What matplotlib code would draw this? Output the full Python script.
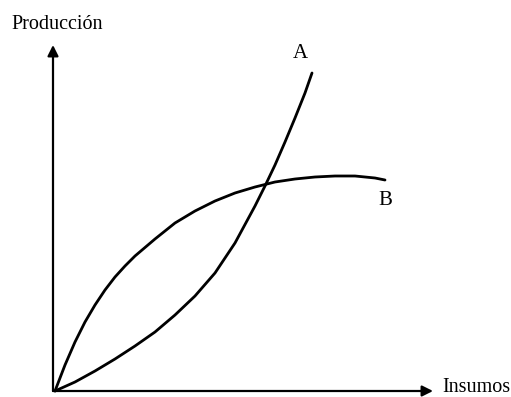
import matplotlib.pyplot as plt

# curva A (convexa) y curva B (concava)
insumos_a = [0, 2, 4, 6, 8, 10, 12, 14, 16, 18, 20, 21, 22, 23, 24, 25, 25.7]
prod_a = [0, 0.9, 2.0, 3.2, 4.5, 5.9, 7.6, 9.5, 11.8, 14.8, 18.5, 20.5, 22.6, 24.9, 27.3, 29.8, 31.8]

insumos_b = [0, 1, 2, 3, 4, 5, 6, 7, 8, 10, 12, 14, 16, 18, 20, 22, 24, 26, 28, 30, 32, 33]
prod_b = [0, 2.6, 4.9, 6.9, 8.6, 10.1, 11.4, 12.5, 13.5, 15.2, 16.8, 18.0, 19.0, 19.8, 20.4,
          20.9, 21.2, 21.4, 21.5, 21.5, 21.3, 21.1]

etiquetas = ["A", "B"]

plt.rcParams['font.family'] = ['Liberation Serif', 'DejaVu Serif']

fig = plt.figure(figsize=(5.11, 3.97), dpi=100)
ax = fig.add_axes([0, 0, 1, 1])
ax.set_xlim(-5.5, 45.6)
ax.set_ylim(-0.6, 39.1)
ax.axis('off')

# ejes con flecha
flecha = dict(arrowstyle='-|>', lw=1.6, color='black', mutation_scale=16, shrinkA=0, shrinkB=0)
ax.annotate('', xy=(37.8, 0), xytext=(-0.2, 0), arrowprops=flecha)
ax.annotate('', xy=(-0.2, 34.6), xytext=(-0.2, 0), arrowprops=flecha)

ax.plot(insumos_a, prod_a, color='black', lw=2, solid_capstyle='round', solid_joinstyle='round')
ax.plot(insumos_b, prod_b, color='black', lw=2, solid_capstyle='round', solid_joinstyle='round')

ax.text(0.2, 36.7, "Producción", fontsize=14.5, ha='center', va='center')
ax.text(38.7, 0.3, "Insumos", fontsize=14.5, ha='left', va='center')
ax.text(24.5, 33.8, etiquetas[0], fontsize=15, ha='center', va='center')
ax.text(33.0, 19.1, etiquetas[1], fontsize=15, ha='center', va='center')

fig.savefig("out.png", dpi=100)
